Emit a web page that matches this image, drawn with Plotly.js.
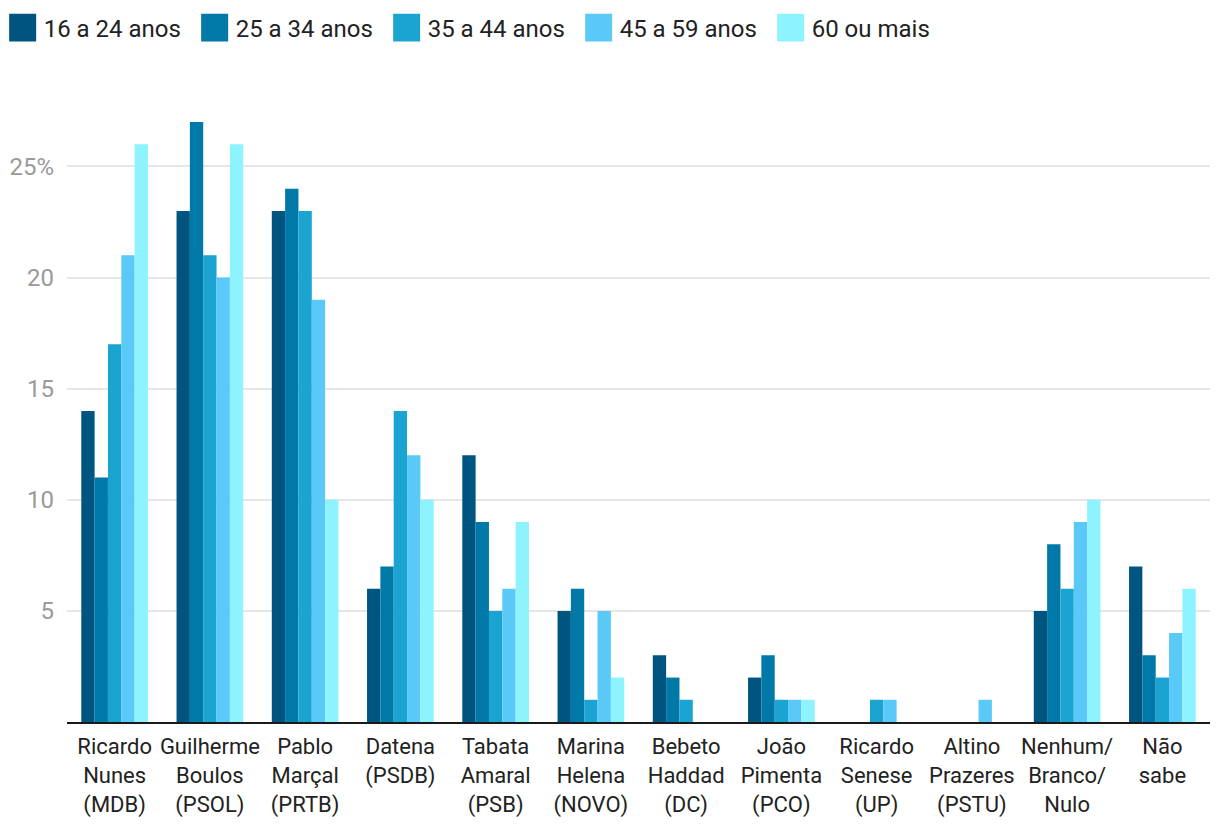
<!DOCTYPE html>
<html>
<head>
<meta charset="utf-8">
<script src="https://cdn.plot.ly/plotly-3.0.1.min.js"></script>
<style>
html,body{margin:0;padding:0;background:#fff;}
#chart{width:1220px;height:834px;}
.legend .legendpoints path{transform:translate(19px,0px) scale(2.25,2.33) !important;}
</style>
</head>
<body>
<div id="chart"></div>
<script>
const categories = [
  "Ricardo<br>Nunes<br>(MDB)", "Guilherme<br>Boulos<br>(PSOL)", "Pablo<br>Marçal<br>(PRTB)",
  "Datena<br>(PSDB)", "Tabata<br>Amaral<br>(PSB)", "Marina<br>Helena<br>(NOVO)",
  "Bebeto<br>Haddad<br>(DC)", "João<br>Pimenta<br>(PCO)", "Ricardo<br>Senese<br>(UP)",
  "Altino<br>Prazeres<br>(PSTU)", "Nenhum/<br>Branco/<br>Nulo", "Não<br>sabe"
];
const seriesNames = ["16 a 24 anos", "25 a 34 anos", "35 a 44 anos", "45 a 59 anos", "60 ou mais"];
const age16_24 = [14, 23, 23, 6, 12, 5, 3, 2, 0, 0, 5, 7];
const age25_34 = [11, 27, 24, 7, 9, 6, 2, 3, 0, 0, 8, 3];
const age35_44 = [17, 21, 23, 14, 5, 1, 1, 1, 1, 0, 6, 2];
const age45_59 = [21, 20, 19, 12, 6, 5, 0, 1, 1, 1, 9, 4];
const age60plus = [26, 26, 10, 10, 9, 2, 0, 1, 0, 0, 10, 6];
const tickVals = [5, 10, 15, 20, 25];
const tickText = ["5", "10", "15", "20", "25%"];
const colors = ["#005580", "#0078A8", "#1BA3D1", "#5BC9F7", "#8DF3FF"];

const allSeries = [age16_24, age25_34, age35_44, age45_59, age60plus];
const data = allSeries.map((vals, i) => ({
  type: "bar",
  name: seriesNames[i],
  x: categories,
  y: vals,
  marker: {color: colors[i], line: {width: 0}},
  hoverinfo: "x+y+name"
}));

const layout = {
  width: 1220,
  height: 834,
  margin: {l: 67, r: 10, t: 122, b: 112},
  paper_bgcolor: "#fff",
  plot_bgcolor: "#fff",
  font: {family: "Roboto, sans-serif", size: 22, color: "#222"},
  barmode: "group",
  bargap: 0.3,
  bargroupgap: 0,
  showlegend: true,
  legend: {
    orientation: "h",
    xref: "container", yref: "container",
    x: 0.003, y: 0.9664, xanchor: "left", yanchor: "middle",
    font: {size: 24, color: "#222"},
    itemwidth: 30,
    entrywidth: 147,
    traceorder: "normal"
  },
  xaxis: {
    type: "category",
    showgrid: false,
    showline: true,
    linecolor: "#1a1a1a",
    linewidth: 2,
    ticks: "",
    tickfont: {size: 22, color: "#222"},
    ticklabelstandoff: 4,
    automargin: false,
    fixedrange: true
  },
  yaxis: {
    range: [0, 27],
    tickvals: tickVals,
    ticktext: tickText,
    showgrid: true,
    gridcolor: "#e6e6e6",
    gridwidth: 2,
    zeroline: false,
    showline: false,
    ticks: "",
    tickfont: {size: 24, color: "#9a9a9a"},
    ticklabelstandoff: 12,
    automargin: false,
    fixedrange: true
  }
};

Plotly.newPlot("chart", data, layout, {displayModeBar: false, staticPlot: true});
</script>
</body>
</html>
